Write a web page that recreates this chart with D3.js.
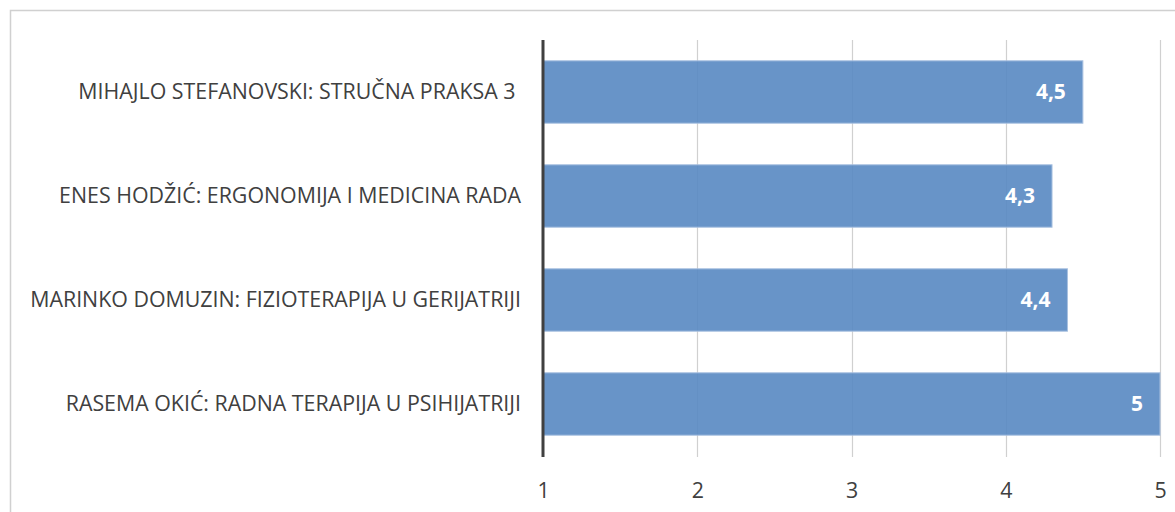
<!DOCTYPE html>
<html><head><meta charset="utf-8">
<script src="https://cdn.jsdelivr.net/npm/d3@7"></script>
<style>body{margin:0;background:#fff}svg{display:block}</style>
</head><body>
<script>
const categories = [
  "MIHAJLO STEFANOVSKI: STRUČNA PRAKSA 3 ",
  "ENES HODŽIĆ: ERGONOMIJA I MEDICINA RADA",
  "MARINKO DOMUZIN: FIZIOTERAPIJA U GERIJATRIJI",
  "RASEMA OKIĆ: RADNA TERAPIJA U PSIHIJATRIJI"
];
const values = [4.5, 4.3, 4.4, 5];
const valueLabels = ["4,5", "4,3", "4,4", "5"];
const ticks = [1, 2, 3, 4, 5];

const W = 1175, H = 512;
const svg = d3.select("body").append("svg").attr("width", W).attr("height", H);
const font = "'Open Sans', sans-serif";

svg.append("rect").attr("x", 10.5).attr("y", 10.5).attr("width", 1200).attr("height", 600)
  .attr("fill", "none").attr("stroke", "#d0d0d0").attr("stroke-width", 1.5);

const x = d3.scaleLinear().domain([1, 5]).range([543, 1160]);
const y = d3.scaleBand().domain(categories).range([40, 456]).paddingInner(0.4).paddingOuter(0.2);

// gridlines
svg.append("g").selectAll("line").data(ticks.slice(1)).join("line")
  .attr("x1", d => Math.round(x(d)) + 0.5).attr("x2", d => Math.round(x(d)) + 0.5)
  .attr("y1", 40).attr("y2", 457).attr("stroke", "#d0d0d0").attr("stroke-width", 1.2);

// bars
svg.append("g").selectAll("rect").data(values).join("rect")
  .attr("x", x(1)).attr("y", (d, i) => y(categories[i]))
  .attr("width", d => x(d) - x(1)).attr("height", y.bandwidth())
  .attr("fill", "#5888c2").attr("fill-opacity", 0.9)
  .attr("stroke", "#a8c0e0").attr("stroke-width", 1);

// axis line
svg.append("line").attr("x1", x(1)).attr("x2", x(1)).attr("y1", 40).attr("y2", 457)
  .attr("stroke", "#404040").attr("stroke-width", 3);

// category labels (font sized so the 2nd label spans ~457px as in the reference)
const catG = svg.append("g");
const cats = catG.selectAll("text").data(categories).join("text")
  .attr("x", 521).attr("y", d => y(d) + y.bandwidth() / 2).attr("dy", "0.35em")
  .attr("text-anchor", "end").attr("font-family", font).attr("font-size", 18).attr("fill", "#404040")
  .style("white-space", "pre")
  .text(d => d);
const measured = cats.nodes()[1].getComputedTextLength();
const catSize = 18 * 462 / measured;
cats.attr("font-size", catSize);

// tick labels
const xAxis = d3.axisBottom(x).tickValues(ticks).tickSize(0).tickFormat(d3.format("d"));
const gx = svg.append("g").attr("transform", "translate(0,480)").call(xAxis);
gx.select(".domain").remove();
gx.selectAll("text").attr("font-family", font).attr("font-size", catSize).attr("fill", "#404040").attr("dy", "0.71em");

// value labels
const vals = svg.append("g").selectAll("text").data(values).join("text")
  .attr("x", d => x(d) - 17).attr("y", (d, i) => y(categories[i]) + y.bandwidth() / 2).attr("dy", "0.35em")
  .attr("text-anchor", "end").attr("font-family", font).attr("font-size", 18).attr("font-weight", "bold")
  .attr("fill", "#ffffff").text((d, i) => valueLabels[i]);
const vw = vals.nodes()[0].getComputedTextLength();
vals.attr("font-size", 18 * 30 / vw);
</script>
</body></html>
